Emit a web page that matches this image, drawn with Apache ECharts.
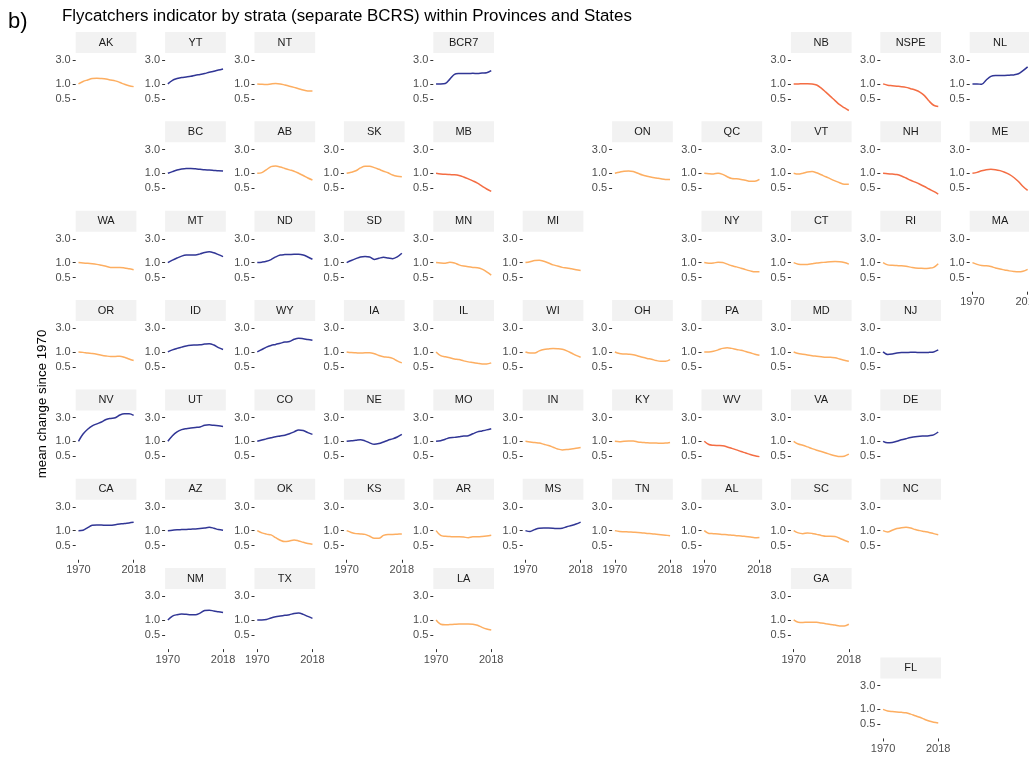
<!DOCTYPE html>
<html>
<head>
<meta charset="utf-8">
<script src="https://cdn.jsdelivr.net/npm/echarts@6/dist/echarts.min.js"></script>
<style>
  html, body { margin: 0; padding: 0; background: #ffffff; }
  #chart { width: 1029px; height: 757px; }
</style>
</head>
<body>
<div id="chart"></div>
<script>
// Survey years sampled along each indicator curve
const YEARS = [1970, 1974, 1978, 1982, 1986, 1990, 1994, 1998, 2002, 2006, 2010, 2014, 2018];
const X_TICKS = [1970, 2018];
const Y_TICKS = [0.5, 1.0, 3.0];

// Geofacet layout: [stratum, row, column]
const GEO_GRID = [
  ['AK',0,0],['YT',0,1],['NT',0,2],['BCR7',0,4],['NB',0,8],['NSPE',0,9],['NL',0,10],
  ['BC',1,1],['AB',1,2],['SK',1,3],['MB',1,4],['ON',1,6],['QC',1,7],['VT',1,8],['NH',1,9],['ME',1,10],
  ['WA',2,0],['MT',2,1],['ND',2,2],['SD',2,3],['MN',2,4],['MI',2,5],['NY',2,7],['CT',2,8],['RI',2,9],['MA',2,10],
  ['OR',3,0],['ID',3,1],['WY',3,2],['IA',3,3],['IL',3,4],['WI',3,5],['OH',3,6],['PA',3,7],['MD',3,8],['NJ',3,9],
  ['NV',4,0],['UT',4,1],['CO',4,2],['NE',4,3],['MO',4,4],['IN',4,5],['KY',4,6],['WV',4,7],['VA',4,8],['DE',4,9],
  ['CA',5,0],['AZ',5,1],['OK',5,2],['KS',5,3],['AR',5,4],['MS',5,5],['TN',5,6],['AL',5,7],['SC',5,8],['NC',5,9],
  ['NM',6,1],['TX',6,2],['LA',6,4],['GA',6,8],
  ['FL',7,9]
];

// Trend classes (everything else is a moderate decline)
const INCREASING = ['YT','BCR7','NL','BC','MT','ND','SD','ID','WY','NJ','NV','UT','CO','NE','MO','DE','CA','AZ','MS','NM','TX'];
const STEEP_DECLINE = ['NB','NSPE','MB','NH','ME','WV'];

// Mean change since 1970, one value per entry of YEARS
const AK   = [1.00, 1.12, 1.20, 1.28, 1.30, 1.28, 1.25, 1.20, 1.15, 1.07, 0.98, 0.92, 0.88];
const YT   = [1.00, 1.18, 1.28, 1.35, 1.38, 1.42, 1.50, 1.55, 1.62, 1.72, 1.80, 1.90, 2.00];
const NT   = [1.00, 0.98, 0.97, 1.00, 1.02, 1.00, 0.95, 0.90, 0.85, 0.80, 0.75, 0.72, 0.72];
const BCR7 = [1.00, 1.00, 1.02, 1.25, 1.55, 1.62, 1.63, 1.62, 1.64, 1.62, 1.66, 1.68, 1.85];
const NB   = [1.00, 1.00, 1.01, 1.01, 1.00, 0.95, 0.82, 0.68, 0.56, 0.46, 0.38, 0.33, 0.29];
const NSPE = [1.00, 0.94, 0.92, 0.90, 0.88, 0.85, 0.80, 0.75, 0.68, 0.58, 0.45, 0.37, 0.35];
const NL   = [1.00, 1.00, 0.98, 1.20, 1.42, 1.47, 1.47, 1.48, 1.50, 1.52, 1.60, 1.85, 2.20];
const BC   = [1.00, 1.08, 1.16, 1.22, 1.25, 1.25, 1.23, 1.20, 1.17, 1.16, 1.14, 1.12, 1.11];
const AB   = [1.00, 1.03, 1.18, 1.36, 1.40, 1.34, 1.25, 1.17, 1.10, 1.00, 0.90, 0.80, 0.73];
const SK   = [1.00, 1.05, 1.12, 1.28, 1.38, 1.38, 1.30, 1.20, 1.10, 1.02, 0.92, 0.87, 0.85];
const MB   = [1.00, 0.97, 0.95, 0.94, 0.93, 0.90, 0.84, 0.77, 0.70, 0.63, 0.55, 0.48, 0.43];
const ON   = [1.00, 1.05, 1.10, 1.11, 1.08, 1.00, 0.92, 0.87, 0.83, 0.80, 0.77, 0.75, 0.75];
const QC   = [1.00, 0.98, 0.97, 1.00, 0.95, 0.85, 0.78, 0.77, 0.75, 0.72, 0.69, 0.69, 0.75];
const VT   = [1.00, 0.96, 1.00, 1.06, 1.08, 1.02, 0.93, 0.85, 0.77, 0.70, 0.64, 0.60, 0.60];
const NH   = [1.00, 0.98, 0.96, 0.94, 0.88, 0.80, 0.72, 0.66, 0.60, 0.54, 0.48, 0.43, 0.38];
const ME   = [1.00, 1.04, 1.12, 1.18, 1.20, 1.18, 1.13, 1.05, 0.95, 0.82, 0.68, 0.54, 0.45];
const WA   = [1.00, 0.98, 0.97, 0.95, 0.92, 0.88, 0.84, 0.80, 0.80, 0.80, 0.78, 0.75, 0.72];
const MT   = [1.00, 1.12, 1.24, 1.35, 1.42, 1.43, 1.43, 1.50, 1.60, 1.65, 1.58, 1.45, 1.32];
const ND   = [1.00, 1.02, 1.06, 1.15, 1.30, 1.42, 1.45, 1.46, 1.47, 1.47, 1.42, 1.30, 1.17];
const SD   = [1.00, 1.10, 1.20, 1.30, 1.33, 1.30, 1.16, 1.22, 1.28, 1.24, 1.20, 1.30, 1.54];
const MN   = [1.00, 0.98, 0.97, 1.01, 0.98, 0.90, 0.85, 0.82, 0.80, 0.79, 0.74, 0.65, 0.56];
const MI   = [1.00, 1.04, 1.10, 1.11, 1.06, 0.98, 0.90, 0.85, 0.80, 0.78, 0.75, 0.72, 0.69];
const NY   = [1.00, 0.97, 0.98, 1.02, 1.00, 0.93, 0.86, 0.82, 0.77, 0.72, 0.68, 0.65, 0.65];
const CT   = [1.00, 0.93, 0.91, 0.92, 0.95, 0.98, 1.00, 1.02, 1.04, 1.05, 1.04, 1.00, 0.93];
const RI   = [1.00, 0.90, 0.88, 0.87, 0.86, 0.84, 0.81, 0.78, 0.77, 0.76, 0.77, 0.80, 0.95];
const MA   = [1.00, 0.92, 0.87, 0.86, 0.83, 0.78, 0.74, 0.71, 0.68, 0.66, 0.65, 0.67, 0.73];
const OR   = [1.00, 0.98, 0.95, 0.93, 0.90, 0.86, 0.83, 0.81, 0.81, 0.82, 0.78, 0.72, 0.67];
const ID   = [1.00, 1.10, 1.18, 1.25, 1.32, 1.36, 1.38, 1.40, 1.44, 1.47, 1.38, 1.22, 1.12];
const WY   = [1.00, 1.12, 1.25, 1.35, 1.42, 1.50, 1.58, 1.62, 1.80, 1.90, 1.85, 1.78, 1.72];
const IA   = [1.00, 0.97, 0.96, 0.95, 0.96, 0.96, 0.92, 0.85, 0.80, 0.78, 0.74, 0.66, 0.60];
const IL   = [1.00, 0.84, 0.80, 0.76, 0.72, 0.70, 0.66, 0.63, 0.61, 0.59, 0.57, 0.57, 0.60];
const WI   = [1.00, 0.95, 0.95, 1.05, 1.12, 1.15, 1.17, 1.16, 1.13, 1.05, 0.95, 0.85, 0.78];
const OH   = [1.00, 0.93, 0.91, 0.90, 0.88, 0.83, 0.78, 0.74, 0.71, 0.67, 0.65, 0.65, 0.70];
const PA   = [1.00, 1.00, 1.03, 1.10, 1.18, 1.22, 1.18, 1.12, 1.08, 1.02, 0.96, 0.90, 0.86];
const MD   = [1.00, 0.93, 0.90, 0.87, 0.84, 0.82, 0.80, 0.78, 0.78, 0.76, 0.72, 0.68, 0.65];
const NJ   = [1.00, 0.89, 0.91, 0.95, 0.97, 0.97, 0.98, 0.98, 0.97, 0.97, 0.98, 1.00, 1.10];
const NV   = [1.00, 1.40, 1.75, 2.05, 2.25, 2.45, 2.75, 2.90, 3.00, 3.40, 3.60, 3.60, 3.35];
const UT   = [1.00, 1.30, 1.55, 1.72, 1.80, 1.85, 1.90, 1.95, 2.10, 2.15, 2.10, 2.05, 2.00];
const CO   = [1.00, 1.06, 1.12, 1.18, 1.24, 1.28, 1.33, 1.42, 1.55, 1.70, 1.65, 1.50, 1.38];
const NE   = [1.00, 1.02, 1.05, 1.08, 1.02, 0.93, 0.87, 0.90, 0.97, 1.05, 1.12, 1.22, 1.38];
const MO   = [1.00, 1.03, 1.10, 1.18, 1.20, 1.24, 1.28, 1.30, 1.42, 1.55, 1.62, 1.70, 1.80];
const IN   = [1.00, 0.97, 0.94, 0.92, 0.87, 0.82, 0.76, 0.70, 0.67, 0.68, 0.70, 0.72, 0.75];
const KY   = [1.00, 0.98, 1.00, 1.01, 1.01, 0.97, 0.95, 0.93, 0.92, 0.92, 0.91, 0.92, 0.95];
const WV   = [1.00, 0.86, 0.83, 0.82, 0.81, 0.77, 0.72, 0.67, 0.62, 0.58, 0.54, 0.51, 0.49];
const VA   = [1.00, 0.88, 0.83, 0.77, 0.71, 0.66, 0.62, 0.58, 0.54, 0.51, 0.49, 0.50, 0.55];
const DE   = [1.00, 0.93, 0.95, 1.00, 1.07, 1.13, 1.19, 1.24, 1.27, 1.28, 1.30, 1.35, 1.54];
const CA   = [1.00, 1.02, 1.15, 1.28, 1.30, 1.30, 1.28, 1.28, 1.32, 1.36, 1.40, 1.43, 1.47];
const AZ   = [1.00, 1.02, 1.04, 1.05, 1.06, 1.07, 1.08, 1.10, 1.13, 1.17, 1.12, 1.05, 1.02];
const OK   = [1.00, 0.90, 0.85, 0.82, 0.72, 0.64, 0.60, 0.62, 0.65, 0.62, 0.58, 0.55, 0.53];
const KS   = [1.00, 0.92, 0.87, 0.86, 0.84, 0.77, 0.70, 0.70, 0.80, 0.84, 0.84, 0.85, 0.86];
const AR   = [1.00, 0.80, 0.77, 0.76, 0.75, 0.75, 0.74, 0.72, 0.75, 0.75, 0.76, 0.78, 0.81];
const MS   = [1.00, 0.96, 1.05, 1.12, 1.13, 1.13, 1.12, 1.10, 1.12, 1.20, 1.27, 1.36, 1.49];
const TN   = [1.00, 0.96, 0.95, 0.94, 0.93, 0.92, 0.90, 0.88, 0.87, 0.85, 0.83, 0.81, 0.79];
const AL   = [1.00, 0.88, 0.87, 0.86, 0.84, 0.83, 0.81, 0.79, 0.78, 0.76, 0.74, 0.72, 0.73];
const SC   = [1.00, 0.90, 0.87, 0.90, 0.88, 0.84, 0.80, 0.77, 0.77, 0.76, 0.70, 0.64, 0.59];
const NC   = [1.00, 0.94, 1.02, 1.10, 1.15, 1.17, 1.13, 1.05, 1.00, 0.96, 0.92, 0.87, 0.83];
const NM   = [1.00, 1.20, 1.28, 1.32, 1.30, 1.28, 1.28, 1.38, 1.55, 1.58, 1.52, 1.47, 1.42];
const TX   = [1.00, 1.00, 1.02, 1.10, 1.16, 1.20, 1.24, 1.28, 1.35, 1.38, 1.30, 1.18, 1.08];
const LA   = [1.00, 0.82, 0.80, 0.81, 0.82, 0.83, 0.83, 0.83, 0.82, 0.78, 0.71, 0.66, 0.63];
const GA   = [1.00, 0.90, 0.89, 0.90, 0.90, 0.90, 0.87, 0.84, 0.81, 0.79, 0.76, 0.76, 0.82];
const FL   = [1.00, 0.93, 0.90, 0.88, 0.87, 0.85, 0.80, 0.74, 0.69, 0.63, 0.58, 0.55, 0.53];

const SERIES_BY_STRATUM = {
  AK, YT, NT, BCR7, NB, NSPE, NL, BC, AB, SK, MB, ON, QC, VT, NH, ME,
  WA, MT, ND, SD, MN, MI, NY, CT, RI, MA, OR, ID, WY, IA, IL, WI, OH, PA, MD, NJ,
  NV, UT, CO, NE, MO, IN, KY, WV, VA, DE, CA, AZ, OK, KS, AR, MS, TN, AL, SC, NC,
  NM, TX, LA, GA, FL
};

// ---- layout and style ----
const FONT = '"Liberation Sans", Arial, Helvetica, sans-serif';
const COL0 = 75.7, COL_STEP = 89.4;
const ROW0 = 32, ROW_STEP = 89.35;
const PANEL_W = 60.7, STRIP_H = 21, PANEL_H = 60;
const X_MIN = 1967.6, X_MAX = 2020.4;   // 1970-2018 plus 5% padding
const Y_MIN = 0.258, Y_MAX = 4.21;      // shared log range plus padding
const COLORS = { up: '#313695', down: '#FDAE61', steep: '#F46D43' };
const TEXT_GREY = '#4D4D4D';

// lowest row used in each column -> that panel carries the year labels
const bottomRow = {};
GEO_GRID.forEach(([, r, c]) => { bottomRow[c] = Math.max(bottomRow[c] ?? -1, r); });

const grids = [], xAxes = [], yAxes = [], series = [], graphics = [];

GEO_GRID.forEach(([code, r, c], i) => {
  const left = COL0 + COL_STEP * c;
  const stripTop = ROW0 + ROW_STEP * r;
  const showYears = bottomRow[c] === r;

  grids.push({ left, top: stripTop + STRIP_H, width: PANEL_W, height: PANEL_H,
               containLabel: false, outerBoundsMode: 'none' });

  xAxes.push({
    type: 'value', gridIndex: i, min: X_MIN, max: X_MAX,
    axisLine: { show: false },
    splitLine: { show: false },
    axisTick: { show: showYears, length: 3, customValues: X_TICKS, lineStyle: { color: '#333333', width: 1 } },
    axisLabel: { show: showYears, customValues: X_TICKS, margin: 5, color: TEXT_GREY, fontSize: 11, fontFamily: FONT,
                 formatter: v => String(v) }
  });

  yAxes.push({
    type: 'log', gridIndex: i, min: Y_MIN, max: Y_MAX,
    axisLine: { show: false },
    splitLine: { show: false },
    axisTick: { show: true, length: 3, customValues: Y_TICKS, lineStyle: { color: '#333333', width: 1 } },
    axisLabel: { show: true, customValues: Y_TICKS, margin: 5, color: TEXT_GREY, fontSize: 11, fontFamily: FONT,
                 formatter: v => Number(v).toFixed(1) }
  });

  const trend = INCREASING.includes(code) ? 'up' : (STEEP_DECLINE.includes(code) ? 'steep' : 'down');
  const values = SERIES_BY_STRATUM[code];
  series.push({
    type: 'line', name: code, xAxisIndex: i, yAxisIndex: i,
    data: YEARS.map((y, k) => [y, values[k]]),
    showSymbol: false, smooth: 0.35, silent: true, animation: false,
    lineStyle: { color: COLORS[trend], width: 1.5 }
  });

  // facet strip
  graphics.push({
    type: 'rect', silent: true,
    shape: { x: left, y: stripTop, width: PANEL_W, height: STRIP_H },
    style: { fill: '#F2F2F2' }
  });
  graphics.push({
    type: 'text', silent: true, x: left + PANEL_W / 2, y: stripTop + STRIP_H / 2,
    style: { text: code, font: '11px ' + FONT, fill: '#1A1A1A',
             align: 'center', verticalAlign: 'middle', textAlign: 'center', textVerticalAlign: 'middle' }
  });
});

// shared y-axis title
graphics.push({
  type: 'text', silent: true, x: 42, y: 404, rotation: Math.PI / 2,
  style: { text: 'mean change since 1970', font: '13.3px ' + FONT, fill: '#000000',
           align: 'center', verticalAlign: 'middle', textAlign: 'center', textVerticalAlign: 'middle' }
});

const chart = echarts.init(document.getElementById('chart'), null, { renderer: 'canvas' });
chart.setOption({
  backgroundColor: '#ffffff',
  animation: false,
  title: [
    { text: 'b)', left: 8, top: 11, padding: 0,
      textStyle: { fontSize: 22, fontWeight: 'normal', color: '#000000', fontFamily: FONT } },
    { text: 'Flycatchers indicator by strata (separate BCRS) within Provinces and States', left: 62, top: 8, padding: 0,
      textStyle: { fontSize: 16.9, fontWeight: 'normal', color: '#000000', fontFamily: FONT } }
  ],
  grid: grids,
  xAxis: xAxes,
  yAxis: yAxes,
  series: series,
  graphic: graphics
});
</script>
</body>
</html>
